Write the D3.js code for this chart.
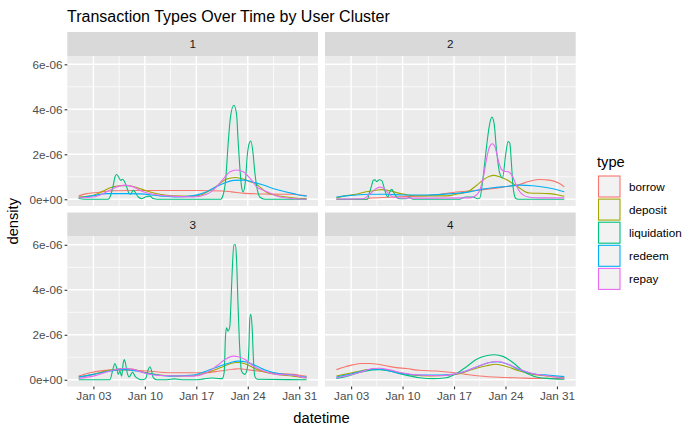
<!DOCTYPE html>
<html>
<head>
<meta charset="utf-8">
<script src="https://cdn.jsdelivr.net/npm/d3@7"></script>
<style>
  body { margin: 0; background: #fff; }
  svg { display: block; font-family: "Liberation Sans", Arial, sans-serif; }
</style>
</head>
<body>
<svg width="700" height="432"></svg>
<script>
const types = ["borrow", "deposit", "liquidation", "redeem", "repay"];
const clusters = ["1", "2", "3", "4"];
const startDate = "2023-01-01";
const xTickDates = ["2023-01-03", "2023-01-10", "2023-01-17", "2023-01-24", "2023-01-31"];
const yTicks = [0, 2, 4, 6];            // density, in units of 1e-6
const yTickLabels = ["0e+00", "2e-06", "4e-06", "6e-06"];

// density curves: [days after Jan 01, density x 1e-6]
const c1_borrow = [[0,0.15],[1.1,0.25],[2.5,0.3],[4.7,0.38],[8,0.39],[12,0.39],[16,0.39],[19.6,0.37],[20.8,0.33],[22.6,0.26],[26,0.23],[29.2,0.22],[31,0.15]];
const c1_deposit = [[0,0.1],[2,0.18],[3.36,0.37],[4.27,0.51],[5.62,0.6],[6.76,0.6],[7.89,0.52],[9.25,0.37],[11.06,0.22],[12.87,0.15],[15.14,0.13],[16.5,0.18],[17.86,0.4],[18.5,0.52],[19.22,0.7],[20.12,0.9],[21.3,0.97],[22.39,0.9],[23.3,0.78],[24,0.7],[24.8,0.5],[25.6,0.3],[26.7,0.18],[28.28,0.1],[30.9,0.03],[31,0.03]];
const c1_liquidation = [[0,0.03],[0.8,0],[4,0],[4.25,0.1],[4.7,0.62],[4.93,0.99],[5.16,1.1],[5.41,1],[5.71,0.84],[5.92,0.89],[6.21,0.8],[6.52,0.55],[6.87,0.25],[7.06,0.22],[7.42,0.4],[7.65,0.33],[8.1,0.1],[8.56,0.03],[9.24,0.12],[9.69,0.14],[10.13,0.03],[10.64,0],[19.3,0],[19.65,0.2],[20,0.9],[20.33,2.48],[20.65,3.66],[21.1,4.18],[21.47,3.79],[21.68,2.62],[21.91,1.44],[22.15,0.55],[22.36,0.33],[22.69,0.84],[22.91,1.88],[23.27,2.55],[23.41,2.59],[23.72,2.03],[23.95,1.21],[24.27,0.47],[24.63,0.1],[25.31,0],[31,0]];
const c1_redeem = [[0,0.08],[0.87,0.1],[2,0.16],[3.81,0.25],[6.53,0.25],[8.34,0.24],[11.06,0.15],[13.33,0.1],[15.59,0.16],[16.95,0.28],[18.31,0.49],[19.67,0.7],[21.03,0.84],[22.39,0.85],[23.75,0.76],[25.11,0.63],[26.92,0.43],[29.19,0.25],[30.9,0.15],[31,0.15]];
const c1_repay = [[0,0.07],[2,0.1],[3.81,0.33],[5.17,0.55],[6.3,0.63],[7.44,0.55],[8.8,0.33],[10.16,0.22],[11.97,0.15],[15.59,0.1],[17.4,0.22],[18.76,0.55],[19.5,0.84],[19.9,1],[20.58,1.22],[21.48,1.3],[22.39,1.22],[23.3,0.93],[23.75,0.75],[24.2,0.55],[25.3,0.38],[26.67,0.18],[27.37,0.1],[30.9,0],[31,0]];

const c2_borrow = [[0,0],[4,0],[4.5,0.05],[7.22,0.09],[9.94,0.13],[12.66,0.17],[14.48,0.24],[16.29,0.32],[18.56,0.38],[20.83,0.46],[22.64,0.54],[24.91,0.66],[26.27,0.8],[27.64,0.88],[28.99,0.85],[30.35,0.7],[31,0.55]];
const c2_deposit = [[0,0.06],[1.09,0.15],[2.68,0.22],[4.04,0.33],[5.4,0.4],[6.1,0.43],[7.22,0.38],[8.58,0.26],[9.94,0.18],[11.3,0.15],[14.93,0.15],[16.29,0.22],[18.11,0.38],[19.01,0.6],[19.92,0.85],[20.83,1.02],[21.4,1.06],[22.19,1],[23.1,0.88],[24,0.7],[24.91,0.5],[25.6,0.35],[26.27,0.28],[28.99,0.25],[30.35,0.18],[31,0.13]];
const c2_liquidation = [[0,0],[4.2,0],[4.5,0.3],[4.8,0.62],[5.01,0.84],[5.25,0.86],[5.48,0.78],[5.83,0.87],[6.15,0.84],[6.46,0.55],[6.73,0.25],[7,0.1],[7.3,0.35],[7.55,0.44],[7.8,0.3],[8.2,0.1],[8.6,0.02],[9.5,0.02],[9.94,0.1],[10.39,0],[16.75,0],[17.3,0.08],[17.65,0.1],[18.6,0.1],[19.2,0.02],[19.5,0.05],[19.96,0.99],[20.42,2.33],[20.77,3.21],[21.15,3.65],[21.45,3.37],[21.78,2.18],[22.23,1.14],[22.6,0.95],[23.04,2.03],[23.35,2.57],[23.58,2.5],[23.81,1.59],[24.03,0.55],[24.4,0.03],[24.7,0],[31,0]];
const c2_redeem = [[0,0.1],[1.32,0.15],[4.5,0.22],[6.76,0.22],[9.03,0.19],[12.21,0.19],[15.84,0.25],[18.11,0.33],[19.92,0.45],[21.28,0.51],[23.1,0.57],[24.91,0.63],[26.73,0.6],[28.54,0.52],[29.9,0.43],[31,0.33]];
const c2_repay = [[0,0.01],[3.6,0.02],[4.5,0.22],[5.3,0.45],[5.9,0.54],[6.5,0.47],[6.9,0.33],[7.5,0.14],[8.2,0.07],[9.49,0.05],[12.66,0.05],[18.11,0.06],[19.24,0.25],[19.6,0.5],[20,1],[20.4,1.75],[20.8,2.3],[21.2,2.47],[21.6,2.3],[22,1.75],[22.4,1.35],[22.8,1.25],[23.4,1.22],[23.9,1.05],[24.3,0.75],[24.8,0.4],[25.3,0.22],[26.1,0.1],[27.64,0.06],[31,0.06]];

const c3_borrow = [[0,0.16],[1.55,0.31],[4.27,0.43],[6.53,0.43],[9.25,0.39],[12.42,0.31],[16.95,0.31],[19.22,0.39],[21,0.47],[21.9,0.49],[22.84,0.45],[24.66,0.38],[26.92,0.29],[29.19,0.24],[30.77,0.16],[31,0.15]];
const c3_deposit = [[0,0.12],[2,0.24],[4.27,0.43],[6.08,0.5],[7.44,0.46],[9.25,0.31],[11.06,0.21],[13.33,0.16],[15.59,0.18],[17.4,0.31],[19.22,0.53],[20.58,0.71],[21.48,0.77],[22.62,0.71],[23.75,0.53],[25.11,0.36],[26.92,0.24],[29.19,0.16],[30.77,0.09],[31,0.09]];
const c3_liquidation = [[0,0],[4.25,0],[4.7,0.53],[4.93,0.72],[5.16,0.53],[5.38,0.24],[5.61,0.39],[5.84,0.16],[6.06,0.75],[6.2,0.9],[6.35,0.75],[6.6,0.31],[6.87,0.13],[7.33,0.34],[7.65,0.16],[8.1,0.04],[8.6,0],[9.1,0.05],[9.46,0.46],[9.69,0.58],[9.92,0.39],[10.13,0.09],[10.6,0],[12,0],[13,0.04],[14,0],[16,0],[17,0.04],[18,0.08],[19.2,0.05],[19.5,0.05],[19.78,0.31],[19.97,1.94],[20.11,2.31],[20.32,2.16],[20.56,2.38],[20.69,3.27],[20.87,4.76],[21.1,6],[21.33,6],[21.47,5.35],[21.68,3.27],[21.91,1.35],[22.15,0.38],[22.59,0.24],[22.91,0.46],[23.14,1.35],[23.27,2.69],[23.41,2.91],[23.58,2.39],[23.77,0.9],[23.95,0.16],[24.3,0.02],[31,0]];
const c3_redeem = [[0,0.12],[2,0.24],[4.27,0.39],[6.08,0.46],[7.89,0.39],[10.16,0.24],[12.42,0.16],[15.59,0.21],[17.4,0.39],[19.22,0.61],[20.58,0.76],[21.71,0.83],[22.84,0.79],[24.2,0.61],[25.56,0.41],[27.37,0.27],[29.19,0.21],[30.77,0.12],[31,0.12]];
const c3_repay = [[0,0.06],[2,0.16],[4.27,0.39],[6.08,0.5],[7.44,0.46],[9.25,0.27],[11.06,0.19],[15.59,0.16],[17.4,0.31],[18.76,0.61],[19.9,0.9],[21.03,1.05],[21.71,1.02],[22.62,0.9],[23.75,0.61],[25.11,0.39],[26.92,0.24],[29.19,0.21],[30.77,0.09],[31,0.09]];

const c4_borrow = [[0,0.45],[1.09,0.57],[2.23,0.66],[3.36,0.72],[4.5,0.72],[5.63,0.69],[6.76,0.62],[8.13,0.54],[9.49,0.5],[11.3,0.42],[13.57,0.39],[15.84,0.32],[17.65,0.24],[19.47,0.17],[22.19,0.11],[24.91,0.08],[27.18,0.06],[29.45,0.06],[31,0.05]];
const c4_deposit = [[0,0.17],[1.09,0.24],[2.68,0.35],[4.04,0.44],[5.4,0.47],[6.76,0.44],[8.58,0.32],[10.39,0.21],[12.66,0.17],[14.93,0.2],[16.75,0.27],[18.56,0.47],[20.38,0.62],[21.74,0.69],[23.1,0.59],[24.91,0.39],[26.73,0.24],[28.54,0.17],[31,0.09]];
const c4_liquidation = [[0,0.06],[1.32,0.15],[3.13,0.32],[4.95,0.44],[5.86,0.45],[7.22,0.39],[9.03,0.24],[11.3,0.09],[13.12,0.05],[14.93,0.09],[16.29,0.27],[17.65,0.57],[19.01,0.9],[20.38,1.07],[21.51,1.11],[22.64,1.04],[24,0.77],[25.37,0.39],[26.73,0.17],[28.54,0.06],[31,0.02]];
const c4_redeem = [[0,0.12],[1.32,0.21],[3.13,0.35],[4.95,0.47],[5.86,0.47],[7.22,0.39],[9.03,0.27],[11.3,0.21],[14.02,0.21],[15.84,0.24],[17.65,0.39],[19.47,0.62],[20.83,0.77],[21.96,0.8],[23.32,0.69],[24.91,0.44],[26.73,0.27],[28.99,0.2],[31,0.14]];
const c4_repay = [[0,0.09],[1.32,0.17],[3.13,0.32],[4.95,0.5],[5.86,0.51],[7.22,0.44],[9.03,0.3],[11.3,0.21],[14.02,0.18],[15.84,0.24],[17.65,0.39],[19.47,0.62],[20.83,0.77],[21.96,0.81],[23.32,0.69],[24.91,0.47],[26.73,0.27],[28.99,0.17],[31,0.06]];

const curves = {
  "1": [c1_borrow, c1_deposit, c1_liquidation, c1_redeem, c1_repay],
  "2": [c2_borrow, c2_deposit, c2_liquidation, c2_redeem, c2_repay],
  "3": [c3_borrow, c3_deposit, c3_liquidation, c3_redeem, c3_repay],
  "4": [c4_borrow, c4_deposit, c4_liquidation, c4_redeem, c4_repay]
};

const svg = d3.select("svg");
const DAY = 86400000;
const t0 = new Date(startDate + "T00:00:00Z").getTime();
const toDate = d => new Date(t0 + d * DAY);

const panelW = 250.7, plotH = 150, stripH = 24;
const colLeft = [67.3, 325];
const rowTop = [32, 212.5];

const x = d3.scaleUtc().domain([toDate(-1.55), toDate(32.55)]).range([0, panelW]);
const y = d3.scaleLinear().domain([-0.30, 6.37]).range([plotH, 0]);
const color = d3.scaleOrdinal().domain(types)
  .range(["#F8766D", "#A3A500", "#00BF7D", "#00B0F6", "#E76BF3"]);

const majorX = xTickDates.map(s => new Date(s + "T00:00:00Z"));
const minorX = d3.pairs(majorX).map(([a, b]) => new Date((a.getTime() + b.getTime()) / 2));
const minorY = d3.pairs(yTicks).map(([a, b]) => (a + b) / 2);

const line = d3.line()
  .x(p => x(toDate(p[0])))
  .y(p => y(p[1]))
  .curve(d3.curveMonotoneX);

// title
svg.append("text")
  .attr("x", 67)
  .attr("y", 22)
  .attr("font-size", 16)
  .attr("fill", "#000")
  .text("Transaction Types Over Time by User Cluster");

clusters.forEach((cl, i) => {
  const col = i % 2, row = Math.floor(i / 2);
  const g = svg.append("g")
    .attr("transform", `translate(${colLeft[col]},${rowTop[row]})`);

  // strip
  g.append("rect")
    .attr("width", panelW).attr("height", stripH)
    .attr("fill", "#D9D9D9");
  g.append("text")
    .attr("x", panelW / 2).attr("y", stripH / 2 + 4.2)
    .attr("text-anchor", "middle")
    .attr("font-size", 11.7)
    .attr("fill", "#1A1A1A")
    .text(cl);

  const plot = g.append("g").attr("transform", `translate(0,${stripH})`);
  plot.append("rect")
    .attr("width", panelW).attr("height", plotH)
    .attr("fill", "#EBEBEB");

  // grid
  plot.selectAll(".minY").data(minorY).enter().append("line")
    .attr("x1", 0).attr("x2", panelW)
    .attr("y1", d => y(d)).attr("y2", d => y(d))
    .attr("stroke", "#fff").attr("stroke-width", 0.7);
  plot.selectAll(".minX").data(minorX).enter().append("line")
    .attr("y1", 0).attr("y2", plotH)
    .attr("x1", d => x(d)).attr("x2", d => x(d))
    .attr("stroke", "#fff").attr("stroke-width", 0.7);
  plot.selectAll(".majY").data(yTicks).enter().append("line")
    .attr("x1", 0).attr("x2", panelW)
    .attr("y1", d => y(d)).attr("y2", d => y(d))
    .attr("stroke", "#fff").attr("stroke-width", 1.4);
  plot.selectAll(".majX").data(majorX).enter().append("line")
    .attr("y1", 0).attr("y2", plotH)
    .attr("x1", d => x(d)).attr("x2", d => x(d))
    .attr("stroke", "#fff").attr("stroke-width", 1.4);

  // density curves
  curves[cl].forEach((pts, k) => {
    plot.append("path")
      .attr("d", line(pts))
      .attr("fill", "none")
      .attr("stroke", color(types[k]))
      .attr("stroke-width", 1.1);
  });

  // axes
  if (col === 0) {
    const ya = plot.append("g")
      .call(d3.axisLeft(y).tickValues(yTicks)
        .tickFormat((d, j) => yTickLabels[j])
        .tickSize(2.7).tickPadding(2.2));
    ya.select(".domain").remove();
    ya.selectAll("line").attr("stroke", "#333333").attr("stroke-width", 1.1);
    ya.selectAll("text").attr("fill", "#4D4D4D").attr("font-size", 11.7)
      .attr("font-family", "Liberation Sans, Arial, sans-serif");
  }
  if (row === 1) {
    const xa = plot.append("g")
      .attr("transform", `translate(0,${plotH})`)
      .call(d3.axisBottom(x).tickValues(majorX)
        .tickFormat(d3.utcFormat("%b %d"))
        .tickSize(2.7).tickPadding(2.2));
    xa.select(".domain").remove();
    xa.selectAll("line").attr("stroke", "#333333").attr("stroke-width", 1.1);
    xa.selectAll("text").attr("fill", "#4D4D4D").attr("font-size", 11.7)
      .attr("font-family", "Liberation Sans, Arial, sans-serif");
  }
});

// axis titles
svg.append("text")
  .attr("x", (colLeft[0] + colLeft[1] + panelW) / 2)
  .attr("y", 423)
  .attr("text-anchor", "middle")
  .attr("font-size", 14.7)
  .attr("fill", "#000")
  .text("datetime");
svg.append("text")
  .attr("transform", `translate(18,${(rowTop[0] + stripH + rowTop[1] + stripH + plotH) / 2}) rotate(-90)`)
  .attr("text-anchor", "middle")
  .attr("font-size", 14.7)
  .attr("fill", "#000")
  .text("density");

// legend
const legend = svg.append("g").attr("transform", "translate(597,0)");
legend.append("text")
  .attr("x", 0).attr("y", 166.5)
  .attr("font-size", 14.7)
  .attr("fill", "#000")
  .text("type");
types.forEach((t, i) => {
  const ky = 176 + i * 23.1;
  legend.append("rect")
    .attr("x", 1.5).attr("y", ky)
    .attr("width", 21.5).attr("height", 21)
    .attr("fill", "#F2F2F2")
    .attr("stroke", color(t))
    .attr("stroke-width", 1.1);
  legend.append("text")
    .attr("x", 32).attr("y", ky + 14.8)
    .attr("font-size", 11.7)
    .attr("fill", "#000")
    .text(t);
});
</script>
</body>
</html>
